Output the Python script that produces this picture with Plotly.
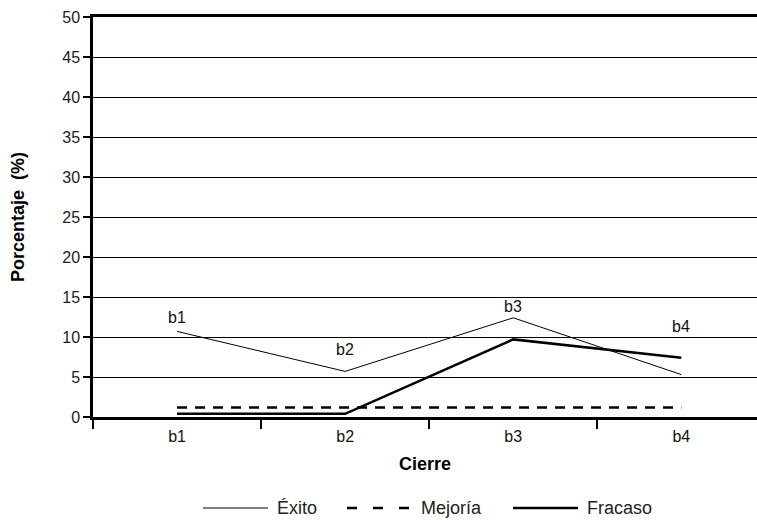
import plotly.graph_objects as go

# Closure categories and percentages per outcome
categorias = ["b1", "b2", "b3", "b4"]
exito = [10.7, 5.7, 12.4, 5.3]
mejoria = [1.2, 1.2, 1.2, 1.2]
fracaso = [0.4, 0.4, 9.7, 7.4]

# Point labels placed over the Éxito line
etiquetas = ["b1", "b2", "b3", "b4"]
etiqueta_y = [12.4, 8.4, 13.8, 11.3]

FONT = "Liberation Sans, Arial, sans-serif"

series = [
    ("Éxito", exito, dict(color="black", width=1)),
    ("Mejoría", mejoria, dict(color="black", width=2.5, dash="10px,8px")),
    ("Fracaso", fracaso, dict(color="black", width=2.5)),
]

fig = go.Figure()
for nombre, valores, estilo in series:
    fig.add_trace(go.Scatter(x=categorias, y=valores, mode="lines", name=nombre,
                             line=estilo, showlegend=False))

for cat, txt, yy in zip(categorias, etiquetas, etiqueta_y):
    fig.add_annotation(x=cat, y=yy, text=txt, showarrow=False,
                       font=dict(family=FONT, size=16, color="#111"))

# Legend drawn beneath the axis title with long line samples
leg_x = [203, 347, 513]          # left edge of each sample, px
leg_y = 508                      # vertical centre, px
W, H = 757, 520
for (nombre, _, estilo), x0 in zip(series, leg_x):
    muestra = dict(estilo)
    if "dash" in muestra:
        muestra["dash"] = "10px,16px"
    fig.add_shape(type="line", xref="paper", yref="paper",
                  x0=(x0 - 93) / 664, x1=(x0 + 65 - 93) / 664,
                  y0=(417 - leg_y) / 400, y1=(417 - leg_y) / 400,
                  line=muestra)
    fig.add_annotation(xref="paper", yref="paper",
                       x=(x0 + 72 - 93) / 664, y=(417 - leg_y) / 400,
                       xanchor="left", yanchor="middle", showarrow=False,
                       text=nombre, font=dict(family=FONT, size=18, color="#222"))

fig.update_layout(
    width=W, height=H,
    margin=dict(l=93, r=0, t=17, b=103, autoexpand=False),
    paper_bgcolor="white", plot_bgcolor="white",
    font=dict(family=FONT, size=16, color="#111"),
    showlegend=False,
    xaxis=dict(
        type="category", range=[-0.5, 3.45], tickson="boundaries",
        ticks="outside", ticklen=9, tickwidth=1.5, tickcolor="black",
        ticklabelstandoff=3,
        showline=True, linecolor="black", linewidth=2.5, mirror=True,
        showgrid=False, zeroline=False, automargin=False,
        tickfont=dict(family=FONT, size=16, color="#111"),
        title=dict(text="<b>Cierre</b>", standoff=14,
                   font=dict(family=FONT, size=18, color="black")),
    ),
    yaxis=dict(
        range=[0, 50], dtick=5, ticks="outside", ticklen=7, tickwidth=1.5,
        tickcolor="black", showline=True, linecolor="black", linewidth=2.5,
        showgrid=True, gridcolor="black", gridwidth=1, zeroline=False,
        automargin=False,
        tickfont=dict(family=FONT, size=16, color="#222"),
        title=dict(text="<b>Porcentaje  (%)</b>", standoff=33,
                   font=dict(family=FONT, size=18, color="black")),
    ),
)

fig.write_html("out.html")
